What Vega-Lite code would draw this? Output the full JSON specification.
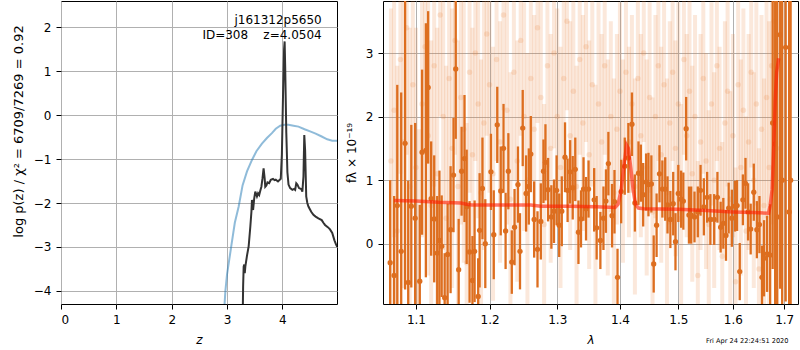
{
  "$schema": "https://vega.github.io/schema/vega-lite/v6.json",
  "background": "white",
  "padding": {"left": 11, "top": 0, "right": 1, "bottom": 0},
  "bounds": "flush",
  "spacing": 46,
  "title": {"text": "Fri Apr 24 22:24:51 2020", "orient": "bottom", "anchor": "end", "fontSize": 6.6, "fontWeight": "normal", "font": "DejaVu Sans", "offset": -8, "color": "black", "dx": -10},
  "config": {
    "font": "DejaVu Sans",
    "view": {"stroke": "black", "strokeWidth": 1},
    "axis": {"domain": false, "grid": true, "gridColor": "#b0b0b0", "gridWidth": 1, "tickColor": "black", "tickSize": 5, "labelPadding": 5, "labelFontSize": 12, "labelColor": "black", "titleFontSize": 12, "titleFontWeight": "normal", "titleColor": "black", "labelFont": "DejaVu Sans", "titleFont": "DejaVu Sans", "titlePadding": 9}
  },
  "datasets": {
    "prior": [
      {"z": 2.95, "lp": -4.4}, {"z": 2.97, "lp": -4.0}, {"z": 3.0, "lp": -3.62}, {"z": 3.03, "lp": -3.37}, {"z": 3.08, "lp": -2.95},
      {"z": 3.14, "lp": -2.45}, {"z": 3.21, "lp": -2.08}, {"z": 3.28, "lp": -1.6}, {"z": 3.36, "lp": -1.28}, {"z": 3.45, "lp": -1.02},
      {"z": 3.53, "lp": -0.82}, {"z": 3.63, "lp": -0.65}, {"z": 3.72, "lp": -0.52}, {"z": 3.81, "lp": -0.41}, {"z": 3.88, "lp": -0.31},
      {"z": 3.96, "lp": -0.24}, {"z": 4.04, "lp": -0.22}, {"z": 4.11, "lp": -0.22}, {"z": 4.2, "lp": -0.24}, {"z": 4.29, "lp": -0.26},
      {"z": 4.4, "lp": -0.32}, {"z": 4.5, "lp": -0.37}, {"z": 4.6, "lp": -0.42}, {"z": 4.7, "lp": -0.48}, {"z": 4.81, "lp": -0.55},
      {"z": 4.9, "lp": -0.58}, {"z": 4.99, "lp": -0.58}
    ],
    "pz": [
      {"z": 3.285, "lp": -4.35}, {"z": 3.29, "lp": -3.9}, {"z": 3.3, "lp": -3.45}, {"z": 3.31, "lp": -3.4}, {"z": 3.32, "lp": -3.6},
      {"z": 3.33, "lp": -3.45}, {"z": 3.36, "lp": -3.2}, {"z": 3.39, "lp": -2.99}, {"z": 3.42, "lp": -2.54}, {"z": 3.44, "lp": -2.2},
      {"z": 3.45, "lp": -1.93}, {"z": 3.46, "lp": -2.05}, {"z": 3.47, "lp": -2.16}, {"z": 3.49, "lp": -1.9}, {"z": 3.51, "lp": -1.74},
      {"z": 3.54, "lp": -1.85}, {"z": 3.56, "lp": -1.78}, {"z": 3.58, "lp": -1.82}, {"z": 3.6, "lp": -1.72}, {"z": 3.62, "lp": -1.63},
      {"z": 3.64, "lp": -1.44}, {"z": 3.66, "lp": -1.21}, {"z": 3.68, "lp": -1.45}, {"z": 3.69, "lp": -1.63}, {"z": 3.71, "lp": -1.6},
      {"z": 3.73, "lp": -1.53}, {"z": 3.76, "lp": -1.55}, {"z": 3.79, "lp": -1.47}, {"z": 3.83, "lp": -1.45}, {"z": 3.86, "lp": -1.48},
      {"z": 3.88, "lp": -1.47}, {"z": 3.92, "lp": -1.51}, {"z": 3.97, "lp": -1.45}, {"z": 3.99, "lp": -0.9}, {"z": 4.01, "lp": 0.4},
      {"z": 4.03, "lp": 1.5}, {"z": 4.04, "lp": 1.68}, {"z": 4.05, "lp": 1.1}, {"z": 4.07, "lp": -0.4}, {"z": 4.09, "lp": -1.3},
      {"z": 4.11, "lp": -1.58}, {"z": 4.14, "lp": -1.66}, {"z": 4.18, "lp": -1.7}, {"z": 4.21, "lp": -1.68}, {"z": 4.23, "lp": -1.7},
      {"z": 4.25, "lp": -1.55}, {"z": 4.27, "lp": -1.58}, {"z": 4.3, "lp": -1.66}, {"z": 4.34, "lp": -1.68}, {"z": 4.36, "lp": -1.74},
      {"z": 4.38, "lp": -1.4}, {"z": 4.395, "lp": -0.45}, {"z": 4.41, "lp": -0.8}, {"z": 4.43, "lp": -1.85}, {"z": 4.45, "lp": -2.0},
      {"z": 4.47, "lp": -2.08}, {"z": 4.52, "lp": -2.2}, {"z": 4.56, "lp": -2.27}, {"z": 4.6, "lp": -2.31}, {"z": 4.65, "lp": -2.35},
      {"z": 4.71, "lp": -2.39}, {"z": 4.74, "lp": -2.45}, {"z": 4.77, "lp": -2.5}, {"z": 4.82, "lp": -2.55}, {"z": 4.86, "lp": -2.6},
      {"z": 4.9, "lp": -2.68}, {"z": 4.94, "lp": -2.85}, {"z": 4.97, "lp": -2.95}, {"z": 4.99, "lp": -3.0}
    ],
    "labels": [
      {"z": 4.71, "lp": 2.08, "t": "j161312p5650"},
      {"z": 4.71, "lp": 1.74, "t": "ID=308\u00a0\u00a0\u00a0\u00a0z=4.0504"}
    ],
    "faint": [
      {"lam": 1.068, "f": 1.3, "e": 2.4}, {"lam": 1.072, "f": 2.1, "e": 2.0}, {"lam": 1.076, "f": 0.2, "e": 2.6}, {"lam": 1.08, "f": 2.9, "e": 1.8},
      {"lam": 1.084, "f": 1.6, "e": 2.3}, {"lam": 1.088, "f": 3.4, "e": 2.0}, {"lam": 1.092, "f": 0.9, "e": 2.5}, {"lam": 1.096, "f": 2.5, "e": 1.9},
      {"lam": 1.1, "f": 1.2, "e": 2.2}, {"lam": 1.104, "f": -0.6, "e": 2.4}, {"lam": 1.108, "f": 2.2, "e": 2.1}, {"lam": 1.112, "f": 3.1, "e": 1.7},
      {"lam": 1.116, "f": 1.7, "e": 2.2}, {"lam": 1.12, "f": 0.6, "e": 2.6}, {"lam": 1.124, "f": 2.8, "e": 1.9}, {"lam": 1.128, "f": 1.1, "e": 2.3},
      {"lam": 1.132, "f": 3.6, "e": 1.6}, {"lam": 1.136, "f": 2.0, "e": 2.1}, {"lam": 1.14, "f": 0.4, "e": 2.4}, {"lam": 1.144, "f": 2.6, "e": 2.0},
      {"lam": 1.148, "f": 1.5, "e": 2.2}, {"lam": 1.152, "f": 3.2, "e": 1.8}, {"lam": 1.156, "f": 0.9, "e": 2.3}, {"lam": 1.16, "f": 2.3, "e": 2.0},
      {"lam": 1.164, "f": 1.8, "e": 2.1}, {"lam": 1.168, "f": -0.3, "e": 2.2}, {"lam": 1.172, "f": 2.7, "e": 1.9}, {"lam": 1.176, "f": 1.4, "e": 2.0},
      {"lam": 1.18, "f": 3.0, "e": 1.7}, {"lam": 1.184, "f": 2.2, "e": 1.8}, {"lam": 1.188, "f": 0.8, "e": 2.1}, {"lam": 1.192, "f": 1.9, "e": 2.0},
      {"lam": 1.196, "f": 3.3, "e": 1.6}, {"lam": 1.2, "f": 2.5, "e": 1.7}, {"lam": 1.205, "f": 1.1, "e": 2.0}, {"lam": 1.21, "f": 2.9, "e": 1.6},
      {"lam": 1.215, "f": 1.6, "e": 1.9}, {"lam": 1.22, "f": 3.6, "e": 1.5}, {"lam": 1.225, "f": 2.1, "e": 1.8}, {"lam": 1.23, "f": 0.7, "e": 2.0},
      {"lam": 1.235, "f": 2.7, "e": 1.7}, {"lam": 1.24, "f": 1.3, "e": 1.9}, {"lam": 1.245, "f": 3.2, "e": 1.5}, {"lam": 1.25, "f": 2.0, "e": 1.8},
      {"lam": 1.255, "f": 1.0, "e": 2.0}, {"lam": 1.26, "f": 2.6, "e": 1.6}, {"lam": 1.265, "f": 1.8, "e": 1.8}, {"lam": 1.27, "f": 3.4, "e": 1.5},
      {"lam": 1.275, "f": 2.3, "e": 1.7}, {"lam": 1.28, "f": 0.3, "e": 1.9}, {"lam": 1.285, "f": 2.8, "e": 1.6}, {"lam": 1.29, "f": 1.5, "e": 1.8},
      {"lam": 1.295, "f": 3.0, "e": 1.5}, {"lam": 1.3, "f": 2.0, "e": 1.7}, {"lam": 1.305, "f": 1.2, "e": 1.9}, {"lam": 1.31, "f": 2.6, "e": 1.6},
      {"lam": 1.315, "f": 3.5, "e": 1.4}, {"lam": 1.32, "f": 1.7, "e": 1.8}, {"lam": 1.325, "f": 2.4, "e": 1.6}, {"lam": 1.33, "f": 0.9, "e": 1.9},
      {"lam": 1.335, "f": 2.9, "e": 1.5}, {"lam": 1.34, "f": 1.9, "e": 1.7}, {"lam": 1.345, "f": 3.1, "e": 1.5}, {"lam": 1.35, "f": 1.4, "e": 1.8},
      {"lam": 1.355, "f": 2.5, "e": 1.6}, {"lam": 1.36, "f": 0.6, "e": 1.9}, {"lam": 1.365, "f": 2.2, "e": 1.6}, {"lam": 1.37, "f": 1.6, "e": 1.7},
      {"lam": 1.375, "f": 2.8, "e": 1.4}, {"lam": 1.38, "f": 1.2, "e": 1.7}, {"lam": 1.385, "f": 2.0, "e": 1.5}, {"lam": 1.39, "f": 0.8, "e": 1.8},
      {"lam": 1.395, "f": 1.8, "e": 1.5}, {"lam": 1.4, "f": 2.4, "e": 1.4}, {"lam": 1.405, "f": 1.3, "e": 1.6}, {"lam": 1.41, "f": 2.7, "e": 1.4},
      {"lam": 1.415, "f": 1.6, "e": 1.5}, {"lam": 1.42, "f": 2.2, "e": 1.4}, {"lam": 1.425, "f": 0.9, "e": 1.7}, {"lam": 1.43, "f": 2.6, "e": 1.5},
      {"lam": 1.435, "f": 1.7, "e": 1.6}, {"lam": 1.44, "f": 3.0, "e": 1.4}, {"lam": 1.445, "f": 1.2, "e": 1.7}, {"lam": 1.45, "f": 2.3, "e": 1.5},
      {"lam": 1.455, "f": 0.5, "e": 1.8}, {"lam": 1.46, "f": 2.0, "e": 1.6}, {"lam": 1.465, "f": 2.8, "e": 1.5}, {"lam": 1.47, "f": 1.4, "e": 1.7},
      {"lam": 1.475, "f": 2.5, "e": 1.5}, {"lam": 1.48, "f": 0.8, "e": 1.8}, {"lam": 1.485, "f": 1.9, "e": 1.6}, {"lam": 1.49, "f": 2.7, "e": 1.4},
      {"lam": 1.495, "f": 1.5, "e": 1.7}, {"lam": 1.5, "f": 2.2, "e": 1.6}, {"lam": 1.505, "f": 0.4, "e": 1.8}, {"lam": 1.51, "f": 2.9, "e": 1.5},
      {"lam": 1.515, "f": 1.7, "e": 1.6}, {"lam": 1.52, "f": 2.4, "e": 1.5}, {"lam": 1.525, "f": 1.1, "e": 1.7}, {"lam": 1.53, "f": 2.0, "e": 1.6},
      {"lam": 1.535, "f": -0.5, "e": 1.8}, {"lam": 1.54, "f": 1.6, "e": 1.7}, {"lam": 1.545, "f": 2.6, "e": 1.5}, {"lam": 1.55, "f": 1.3, "e": 1.7},
      {"lam": 1.555, "f": 0.3, "e": 1.8}, {"lam": 1.56, "f": 2.2, "e": 1.6}, {"lam": 1.565, "f": 1.0, "e": 1.7}, {"lam": 1.57, "f": 2.8, "e": 1.5},
      {"lam": 1.575, "f": 1.5, "e": 1.6}, {"lam": 1.58, "f": -0.2, "e": 1.8}, {"lam": 1.585, "f": 1.9, "e": 1.6}, {"lam": 1.59, "f": 2.4, "e": 1.5},
      {"lam": 1.595, "f": 0.7, "e": 1.7}, {"lam": 1.6, "f": 1.7, "e": 1.6}, {"lam": 1.605, "f": -0.6, "e": 1.8}, {"lam": 1.61, "f": 2.5, "e": 1.5},
      {"lam": 1.615, "f": 1.2, "e": 1.7}, {"lam": 1.62, "f": 2.1, "e": 1.6}, {"lam": 1.625, "f": 0.2, "e": 1.8}, {"lam": 1.63, "f": 1.6, "e": 1.7},
      {"lam": 1.635, "f": 2.7, "e": 1.5}, {"lam": 1.64, "f": 1.0, "e": 1.7}, {"lam": 1.645, "f": 2.2, "e": 1.6}, {"lam": 1.65, "f": -0.4, "e": 1.9},
      {"lam": 1.655, "f": 1.8, "e": 1.8}, {"lam": 1.66, "f": 0.6, "e": 2.0}, {"lam": 1.665, "f": 2.3, "e": 1.9}, {"lam": 1.67, "f": 1.2, "e": 2.3},
      {"lam": 1.675, "f": 2.8, "e": 2.5}, {"lam": 1.68, "f": 3.5, "e": 2.6}, {"lam": 1.685, "f": 1.5, "e": 3.0}
    ],
    "dark": [
      {"lam": 1.067, "f": -0.3, "e": 1.3}, {"lam": 1.072, "f": -0.5, "e": 1.25}, {"lam": 1.076, "f": 0.6, "e": 1.9}, {"lam": 1.081, "f": -0.12, "e": 2.5},
      {"lam": 1.086, "f": 1.58, "e": 2.3}, {"lam": 1.09, "f": -0.61, "e": 1.6}, {"lam": 1.094, "f": 0.59, "e": 1.28}, {"lam": 1.099, "f": 0.4, "e": 1.5},
      {"lam": 1.105, "f": -0.59, "e": 1.2}, {"lam": 1.108, "f": 1.44, "e": 1.3}, {"lam": 1.113, "f": 1.47, "e": 2.0}, {"lam": 1.116, "f": 2.46, "e": 1.2},
      {"lam": 1.12, "f": 0.71, "e": 0.9}, {"lam": 1.124, "f": 0.39, "e": 1.0}, {"lam": 1.128, "f": -0.15, "e": 0.9}, {"lam": 1.131, "f": 0.05, "e": 1.1},
      {"lam": 1.134, "f": -0.04, "e": 0.8}, {"lam": 1.138, "f": -0.85, "e": 0.7}, {"lam": 1.142, "f": -0.17, "e": 0.8}, {"lam": 1.146, "f": 0.22, "e": 1.0},
      {"lam": 1.15, "f": 1.08, "e": 0.9}, {"lam": 1.153, "f": 2.75, "e": 1.1}, {"lam": 1.157, "f": -0.41, "e": 0.8}, {"lam": 1.161, "f": 1.14, "e": 0.7},
      {"lam": 1.165, "f": 1.34, "e": 1.0}, {"lam": 1.168, "f": 0.58, "e": 0.9}, {"lam": 1.172, "f": -0.13, "e": 0.8}, {"lam": 1.176, "f": -0.58, "e": 0.7},
      {"lam": 1.179, "f": -0.12, "e": 0.8}, {"lam": 1.184, "f": -0.83, "e": 0.6}, {"lam": 1.186, "f": 0.21, "e": 0.9}, {"lam": 1.19, "f": 0.87, "e": 0.8},
      {"lam": 1.194, "f": 0.0, "e": 0.7},
      {"lam": 1.202, "f": 1.13, "e": 0.6}, {"lam": 1.206, "f": 0.14, "e": 0.7}, {"lam": 1.211, "f": 1.87, "e": 0.6}, {"lam": 1.216, "f": 0.83, "e": 0.7},
      {"lam": 1.22, "f": 1.5, "e": 0.7}, {"lam": 1.223, "f": 0.2, "e": 0.6}, {"lam": 1.227, "f": 1.14, "e": 0.6}, {"lam": 1.232, "f": -0.29, "e": 0.5},
      {"lam": 1.236, "f": 0.26, "e": 0.6}, {"lam": 1.241, "f": 0.93, "e": 0.6}, {"lam": 1.244, "f": -0.12, "e": 0.6}, {"lam": 1.248, "f": 1.82, "e": 0.6},
      {"lam": 1.253, "f": 0.79, "e": 0.6}, {"lam": 1.257, "f": 0.9, "e": 0.6}, {"lam": 1.26, "f": 1.41, "e": 0.6}, {"lam": 1.265, "f": 0.38, "e": 0.6},
      {"lam": 1.27, "f": -0.09, "e": 0.6}, {"lam": 1.275, "f": 0.35, "e": 0.6}, {"lam": 1.279, "f": 1.14, "e": 0.5}, {"lam": 1.282, "f": 1.28, "e": 0.6},
      {"lam": 1.286, "f": 0.85, "e": 0.5}, {"lam": 1.291, "f": 0.42, "e": 0.5}, {"lam": 1.295, "f": 0.51, "e": 0.5}, {"lam": 1.299, "f": 0.84, "e": 0.55},
      {"lam": 1.303, "f": 0.29, "e": 0.5}, {"lam": 1.307, "f": 0.51, "e": 0.55}, {"lam": 1.312, "f": 1.36, "e": 0.55}, {"lam": 1.316, "f": 0.84, "e": 0.5},
      {"lam": 1.32, "f": 1.13, "e": 0.5}, {"lam": 1.324, "f": 0.88, "e": 0.5}, {"lam": 1.328, "f": 1.17, "e": 0.5}, {"lam": 1.333, "f": 0.18, "e": 0.5},
      {"lam": 1.337, "f": 0.39, "e": 0.45}, {"lam": 1.341, "f": 0.86, "e": 0.5}, {"lam": 1.345, "f": 0.55, "e": 0.5}, {"lam": 1.349, "f": 0.86, "e": 0.45},
      {"lam": 1.358, "f": 0.69, "e": 0.5}, {"lam": 1.362, "f": 0.25, "e": 0.5}, {"lam": 1.368, "f": 0.05, "e": 0.45}, {"lam": 1.373, "f": 0.4, "e": 0.5},
      {"lam": 1.377, "f": 0.67, "e": 0.5}, {"lam": 1.381, "f": 1.26, "e": 0.5}, {"lam": 1.387, "f": 0.44, "e": 0.5}, {"lam": 1.391, "f": 0.66, "e": 0.5},
      {"lam": 1.396, "f": -0.53, "e": 0.45}, {"lam": 1.402, "f": 0.82, "e": 0.5}, {"lam": 1.408, "f": 1.22, "e": 0.45}, {"lam": 1.414, "f": 1.35, "e": 0.55},
      {"lam": 1.42, "f": 1.88, "e": 0.5}, {"lam": 1.425, "f": 0.64, "e": 0.45}, {"lam": 1.431, "f": 1.11, "e": 0.5}, {"lam": 1.435, "f": 1.11, "e": 0.45},
      {"lam": 1.439, "f": 0.77, "e": 0.5}, {"lam": 1.444, "f": 0.97, "e": 0.45}, {"lam": 1.448, "f": 0.93, "e": 0.5}, {"lam": 1.453, "f": 0.94, "e": 0.45},
      {"lam": 1.457, "f": -0.32, "e": 0.45}, {"lam": 1.462, "f": 0.29, "e": 0.5}, {"lam": 1.467, "f": 1.1, "e": 0.45}, {"lam": 1.472, "f": 0.86, "e": 0.45},
      {"lam": 1.477, "f": 0.86, "e": 0.5}, {"lam": 1.481, "f": 0.61, "e": 0.45}, {"lam": 1.486, "f": 0.38, "e": 0.45}, {"lam": 1.491, "f": 0.63, "e": 0.5},
      {"lam": 1.495, "f": 0.03, "e": 0.45}, {"lam": 1.5, "f": 0.79, "e": 0.45}, {"lam": 1.505, "f": 0.7, "e": 0.45}, {"lam": 1.509, "f": 0.67, "e": 0.45},
      {"lam": 1.514, "f": 1.81, "e": 0.5}, {"lam": 1.519, "f": 0.45, "e": 0.45}, {"lam": 1.523, "f": 0.45, "e": 0.45}, {"lam": 1.529, "f": 0.42, "e": 0.4},
      {"lam": 1.535, "f": 0.5, "e": 0.4}, {"lam": 1.54, "f": 0.84, "e": 0.4}, {"lam": 1.546, "f": 0.58, "e": 0.45}, {"lam": 1.552, "f": 0.73, "e": 0.4},
      {"lam": 1.558, "f": 0.38, "e": 0.4}, {"lam": 1.565, "f": 0.38, "e": 0.4}, {"lam": 1.571, "f": 0.73, "e": 0.4}, {"lam": 1.577, "f": 0.26, "e": 0.4},
      {"lam": 1.582, "f": 0.32, "e": 0.4}, {"lam": 1.587, "f": 0.13, "e": 0.4}, {"lam": 1.592, "f": 0.56, "e": 0.4}, {"lam": 1.598, "f": 0.4, "e": 0.45},
      {"lam": 1.604, "f": 0.59, "e": 0.4}, {"lam": 1.608, "f": 0.6, "e": 0.4}, {"lam": 1.613, "f": -0.44, "e": 0.45}, {"lam": 1.619, "f": 0.69, "e": 0.4},
      {"lam": 1.624, "f": 0.95, "e": 0.4}, {"lam": 1.629, "f": 0.5, "e": 0.45}, {"lam": 1.634, "f": 0.23, "e": 0.4}, {"lam": 1.64, "f": 0.81, "e": 0.45},
      {"lam": 1.646, "f": 0.22, "e": 0.45}, {"lam": 1.651, "f": 0.3, "e": 0.45}, {"lam": 1.656, "f": -0.53, "e": 0.5}, {"lam": 1.66, "f": -0.23, "e": 0.6},
      {"lam": 1.666, "f": -0.16, "e": 0.6}, {"lam": 1.672, "f": -0.18, "e": 0.8}, {"lam": 1.677, "f": 1.9, "e": 2.3}, {"lam": 1.682, "f": 1.57, "e": 3.0},
      {"lam": 1.686, "f": 0.42, "e": 3.5}, {"lam": 1.692, "f": 3.29, "e": 4.0}, {"lam": 1.696, "f": 1.0, "e": 5.0}, {"lam": 1.703, "f": 3.09, "e": 4.0},
      {"lam": 1.71, "f": 0.5, "e": 5.0}, {"lam": 1.713, "f": 1.0, "e": 5.0}
    ],
    "model": [
      {"lam": 1.072, "f": 0.68}, {"lam": 1.1, "f": 0.67}, {"lam": 1.13, "f": 0.65}, {"lam": 1.16, "f": 0.64}, {"lam": 1.168, "f": 0.62},
      {"lam": 1.175, "f": 0.61}, {"lam": 1.22, "f": 0.61}, {"lam": 1.26, "f": 0.61}, {"lam": 1.275, "f": 0.59}, {"lam": 1.32, "f": 0.59},
      {"lam": 1.36, "f": 0.58}, {"lam": 1.392, "f": 0.57}, {"lam": 1.397, "f": 0.62}, {"lam": 1.402, "f": 0.85}, {"lam": 1.407, "f": 1.25},
      {"lam": 1.411, "f": 1.55}, {"lam": 1.414, "f": 1.5}, {"lam": 1.418, "f": 1.2}, {"lam": 1.422, "f": 0.85}, {"lam": 1.426, "f": 0.62},
      {"lam": 1.431, "f": 0.56}, {"lam": 1.44, "f": 0.55}, {"lam": 1.5, "f": 0.54}, {"lam": 1.55, "f": 0.52}, {"lam": 1.6, "f": 0.5},
      {"lam": 1.64, "f": 0.49}, {"lam": 1.669, "f": 0.48}, {"lam": 1.672, "f": 0.6}, {"lam": 1.676, "f": 0.85}, {"lam": 1.679, "f": 1.5},
      {"lam": 1.682, "f": 2.25}, {"lam": 1.685, "f": 2.7}, {"lam": 1.689, "f": 2.92}
    ]
  },
  "hconcat": [
    {
      "width": 276,
      "height": 303,
      "layer": [
        {
          "data": {"name": "prior"},
          "mark": {"type": "line", "color": "#1f77b4", "opacity": 0.5, "strokeWidth": 2, "clip": true},
          "encoding": {
            "x": {"field": "z", "type": "quantitative", "scale": {"domain": [0, 4.986], "nice": false, "zero": false}, "axis": {"values": [0, 1, 2, 3, 4], "format": "d", "title": "z", "titleFontStyle": "italic"}},
            "y": {"field": "lp", "type": "quantitative", "scale": {"domain": [-4.3, 2.6], "nice": false, "zero": false}, "axis": {"values": [-4, -3, -2, -1, 0, 1, 2], "format": "d", "title": "log p(z) / χ² = 6709/7269 = 0.92", "titleY": 130, "titleFontSize": 13, "titlePadding": 8}}
          }
        },
        {
          "data": {"name": "pz"},
          "mark": {"type": "line", "color": "#333333", "strokeWidth": 2, "clip": true},
          "encoding": {
            "x": {"field": "z", "type": "quantitative"},
            "y": {"field": "lp", "type": "quantitative"}
          }
        },
        {
          "data": {"name": "labels"},
          "mark": {"type": "text", "align": "right", "baseline": "alphabetic", "fontSize": 12, "color": "black"},
          "encoding": {
            "x": {"field": "z", "type": "quantitative"},
            "y": {"field": "lp", "type": "quantitative"},
            "text": {"field": "t"}
          }
        }
      ]
    },
    {
      "width": 415,
      "height": 303,
      "layer": [
        {
          "data": {"name": "faint"},
          "mark": {"type": "errorbar", "color": "#e8803a", "opacity": 0.18, "thickness": 4, "rule": {"clip": true}},
          "encoding": {
            "x": {"field": "lam", "type": "quantitative", "scale": {"type": "log", "domain": [1.058, 1.728], "nice": false, "zero": false}, "axis": {"values": [1.1, 1.2, 1.3, 1.4, 1.5, 1.6, 1.7], "format": ".1f", "title": "λ", "titleFontStyle": "italic"}},
            "y": {"field": "f", "type": "quantitative", "title": "fλ × 10⁻¹⁹", "scale": {"domain": [-0.95, 3.82], "nice": false, "zero": false, "clamp": true}, "axis": {"values": [0, 1, 2, 3], "format": "d", "title": "fλ × 10⁻¹⁹", "titlePadding": 7}},
            "yError": {"field": "e"}
          }
        },
        {
          "data": {"name": "faint"},
          "mark": {"type": "point", "filled": true, "shape": "circle", "color": "#e8803a", "opacity": 0.18, "size": 30, "clip": true},
          "encoding": {
            "x": {"field": "lam", "type": "quantitative"},
            "y": {"field": "f", "type": "quantitative", "title": "fλ × 10⁻¹⁹"}
          }
        },
        {
          "data": {"name": "dark"},
          "mark": {"type": "errorbar", "color": "#dd6e1f", "thickness": 2.3, "rule": {"clip": true}},
          "encoding": {
            "x": {"field": "lam", "type": "quantitative"},
            "y": {"field": "f", "type": "quantitative", "title": "fλ × 10⁻¹⁹"},
            "yError": {"field": "e"}
          }
        },
        {
          "data": {"name": "dark"},
          "mark": {"type": "point", "filled": true, "shape": "circle", "color": "#dd6e1f", "opacity": 1, "size": 28, "clip": true},
          "encoding": {
            "x": {"field": "lam", "type": "quantitative"},
            "y": {"field": "f", "type": "quantitative", "title": "fλ × 10⁻¹⁹"}
          }
        },
        {
          "data": {"name": "model"},
          "mark": {"type": "line", "color": "#ff1a00", "opacity": 0.6, "strokeWidth": 3.5, "clip": true},
          "encoding": {
            "x": {"field": "lam", "type": "quantitative"},
            "y": {"field": "f", "type": "quantitative", "title": "fλ × 10⁻¹⁹"}
          }
        },
        {
          "mark": {"type": "rule", "color": "black", "strokeWidth": 2, "strokeDash": [2, 3], "clip": true},
          "encoding": {"y": {"datum": 0}}
        }
      ]
    }
  ]
}
